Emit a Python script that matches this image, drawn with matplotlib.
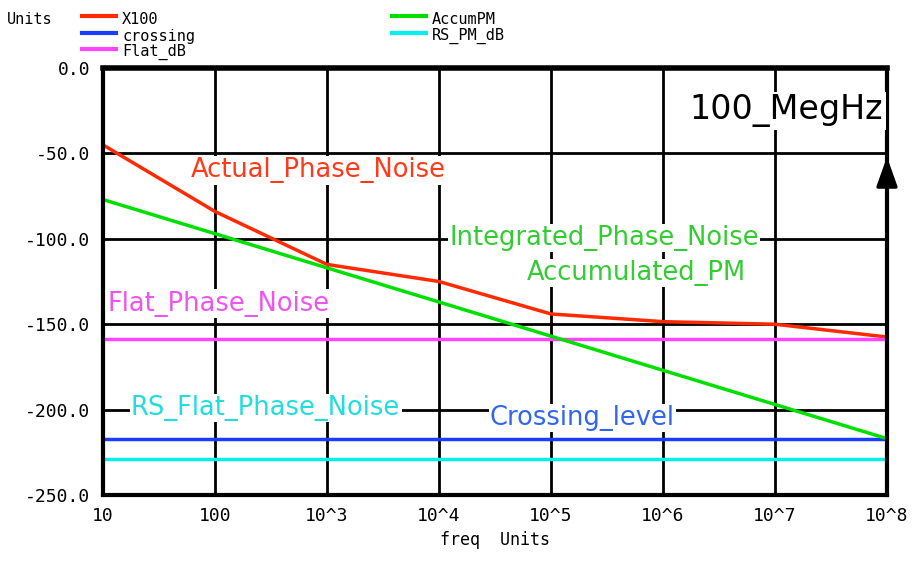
import matplotlib.pyplot as plt
from matplotlib.lines import Line2D

# data
freq = [1e1, 1e2, 1e3, 1e4, 1e5, 1e6, 1e7, 1e8]
x100 = [-45, -84, -115, -125, -144, -148.5, -150, -157.5]
accum_pm = [-77, -97, -117, -137, -157, -177, -197, -217]
crossing = [-217, -217]
flat_db = [-158.5, -158.5]
rs_pm_db = [-229, -229]
span = [1e1, 1e8]

xticks = [1e1, 1e2, 1e3, 1e4, 1e5, 1e6, 1e7, 1e8]
xticklabels = ['10', '100', '10^3', '10^4', '10^5', '10^6', '10^7', '10^8']
yticks = [0, -50, -100, -150, -200, -250]

RED = '#ff2a00'
GREEN = '#00e000'
BLUE = '#1a3cff'
MAGENTA = '#ff44ff'
CYAN = '#00f0f0'

fig = plt.figure(figsize=(9.22, 5.65), dpi=100)
ax = fig.add_axes([0.1117, 0.1239, 0.8503, 0.7557])

ax.plot(freq, x100, color=RED, lw=2.5)
ax.plot(span, crossing, color=BLUE, lw=2.5)
ax.plot(span, flat_db, color=MAGENTA, lw=2.5)
ax.plot(freq, accum_pm, color=GREEN, lw=2.5)
ax.plot(span, rs_pm_db, color=CYAN, lw=2.5)

ax.set_xscale('log')
ax.set_xlim(1e1, 1e8)
ax.set_ylim(-250, 0)
ax.set_xticks(xticks)
ax.set_xticklabels(xticklabels)
ax.minorticks_off()
ax.set_yticks(yticks)
ax.set_yticklabels(['%.1f' % v for v in yticks])
ax.tick_params(length=0, labelsize=13, pad=9)
for lab in ax.get_xticklabels() + ax.get_yticklabels():
    lab.set_family('DejaVu Sans Mono')
ax.set_axisbelow(True)
ax.grid(True, color='black', lw=2)
for s in ax.spines.values():
    s.set_linewidth(3)
ax.spines['top'].set_linewidth(4)

ax.set_xlabel('freq  Units', family='DejaVu Sans Mono', fontsize=12, labelpad=4)

box = dict(facecolor='white', edgecolor='none', pad=1)
ax.text(10**1.78, -60, 'Actual_Phase_Noise', color='#ff3a1a', fontsize=18.5,
        va='center', ha='left', bbox=box)
ax.text(10**4.09, -99.5, 'Integrated_Phase_Noise', color='#33cc33', fontsize=18.5,
        va='center', ha='left', bbox=box)
ax.text(10**4.78, -120, 'Accumulated_PM', color='#33cc33', fontsize=18.5,
        va='center', ha='left', bbox=box)
ax.text(10**1.04, -138, 'Flat_Phase_Noise', color='#ee55ee', fontsize=18.5,
        va='center', ha='left', bbox=box)
ax.text(10**1.25, -199, 'RS_Flat_Phase_Noise', color='#22dddd', fontsize=18.5,
        va='center', ha='left', bbox=box)
ax.text(10**4.455, -205, 'Crossing_level', color='#3366ee', fontsize=18.5,
        va='center', ha='left', bbox=box)
ax.text(10**6.24, -25, '100_MegHz', color='black', fontsize=24,
        va='center', ha='left', bbox=dict(facecolor='white', edgecolor='none', pad=2))

ax.annotate('', xy=(1e8, -52), xytext=(1e8, -217),
            arrowprops=dict(arrowstyle='-|>,head_width=0.32,head_length=0.9',
                            color='black', lw=2.5, shrinkA=0, shrinkB=0,
                            mutation_scale=20),
            annotation_clip=False)

# legend drawn by hand, above the axes
W, H = 922, 565
fig.text(7 / W, 1 - 19 / H, 'Units', family='DejaVu Sans Mono', fontsize=11, va='center')
entries = [
    (82, 16, RED, 'X100'),
    (82, 33, BLUE, 'crossing'),
    (82, 49, MAGENTA, 'Flat_dB'),
    (392, 16, GREEN, 'AccumPM'),
    (392, 33, CYAN, 'RS_PM_dB'),
]
for x0, y0, col, name in entries:
    fig.add_artist(Line2D([x0 / W, (x0 + 34) / W], [1 - y0 / H, 1 - y0 / H],
                          color=col, lw=3))
    fig.text((x0 + 40) / W, 1 - (y0 + 3) / H, name, family='DejaVu Sans Mono',
             fontsize=11, va='center')

plt.savefig('out.png', dpi=100)
